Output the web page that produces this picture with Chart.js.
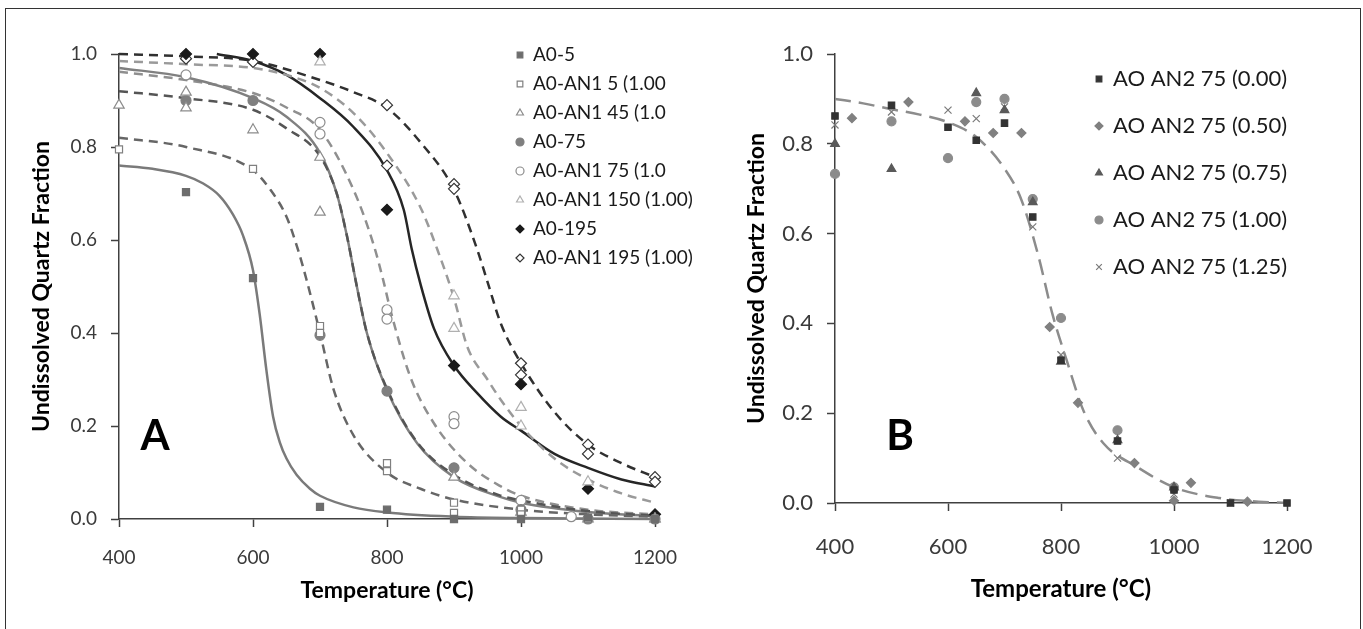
<!DOCTYPE html>
<html>
<head>
<meta charset="utf-8">
<script src="https://cdn.jsdelivr.net/npm/chart.js@4"></script>
<style>
  html, body { margin: 0; padding: 0; background: #fff; }
  body { width: 1363px; height: 629px; position: relative; overflow: hidden; }
  #frame { position: absolute; left: 5px; top: 8px; width: 1354px; height: 640px; border: 1px solid #333; }
  #wa { position: absolute; left: 0; top: 0; width: 740px; height: 629px; }
  #wb { position: absolute; left: 740px; top: 0; width: 623px; height: 629px; }
</style>
</head>
<body>
<div id="frame"></div>
<div id="wa"><canvas id="chartA"></canvas></div>
<div id="wb"><canvas id="chartB"></canvas></div>
<script>
// ---- panel A : measured points ----
const a05T = [500, 600, 700, 800, 900, 1000, 1100, 1200];
const a05V = [0.703, 0.518, 0.026, 0.02, 0.0, 0.0, 0.003, 0.0];
const an5T = [400, 600, 700, 700, 800, 800, 900, 900, 1000, 1000, 1100];
const an5V = [0.795, 0.753, 0.415, 0.40, 0.12, 0.103, 0.035, 0.013, 0.02, 0.01, 0.0];
const an45T = [400, 500, 500, 600, 700, 700, 900, 1000, 1100, 1200];
const an45V = [0.89, 0.918, 0.884, 0.837, 0.778, 0.66, 0.09, 0.015, 0.0, 0.0];
const a75T = [500, 600, 700, 800, 900, 1000, 1100, 1200];
const a75V = [0.90, 0.90, 0.395, 0.275, 0.11, 0.02, 0.0, 0.0];
const an75T = [500, 700, 700, 800, 800, 900, 900, 1000, 1075];
const an75V = [0.955, 0.853, 0.828, 0.45, 0.43, 0.22, 0.205, 0.04, 0.005];
const an150T = [700, 900, 900, 1000, 1000, 1100, 1200];
const an150V = [0.983, 0.48, 0.41, 0.24, 0.20, 0.08, 0.0];
const a195T = [500, 600, 700, 800, 900, 1000, 1100, 1200];
const a195V = [1.0, 1.0, 1.0, 0.665, 0.33, 0.29, 0.065, 0.01];
const an195T = [500, 600, 800, 800, 900, 900, 1000, 1000, 1100, 1100, 1200, 1200];
const an195V = [0.99, 0.983, 0.89, 0.76, 0.72, 0.71, 0.335, 0.31, 0.16, 0.14, 0.09, 0.08];

// ---- panel A : fitted curves ----
const fitA05T = [400, 450, 500, 525, 550, 570, 585, 600, 610, 620, 630, 640, 650, 665, 685, 700, 750, 800, 900, 1000, 1200];
const fitA05V = [0.76, 0.753, 0.738, 0.722, 0.695, 0.655, 0.61, 0.535, 0.44, 0.32, 0.22, 0.165, 0.13, 0.095, 0.065, 0.05, 0.025, 0.014, 0.005, 0.002, 0.0];
const fitAn5T = [400, 500, 600, 625, 650, 667, 680, 700, 720, 750, 800, 850, 900, 1000, 1100, 1200];
const fitAn5V = [0.82, 0.80, 0.75, 0.71, 0.65, 0.58, 0.514, 0.40, 0.28, 0.18, 0.10, 0.065, 0.042, 0.02, 0.01, 0.005];
const fitAn45T = [400, 500, 600, 650, 700, 725, 740, 755, 770, 800, 845, 900, 970, 1000, 1100, 1200];
const fitAn45V = [0.92, 0.905, 0.88, 0.84, 0.78, 0.70, 0.61, 0.50, 0.40, 0.28, 0.165, 0.095, 0.05, 0.04, 0.017, 0.007];
const fitA75T = [400, 500, 600, 650, 700, 725, 740, 755, 770, 800, 845, 900, 970, 1000, 1100, 1200];
const fitA75V = [0.97, 0.95, 0.905, 0.865, 0.787, 0.70, 0.61, 0.50, 0.40, 0.277, 0.163, 0.09, 0.047, 0.035, 0.015, 0.006];
const fitAn75T = [400, 500, 600, 650, 700, 750, 780, 795, 805, 835, 870, 920, 970, 1000, 1100, 1200];
const fitAn75V = [0.962, 0.944, 0.916, 0.885, 0.837, 0.708, 0.59, 0.51, 0.45, 0.305, 0.206, 0.12, 0.07, 0.05, 0.02, 0.01];
const fitAn150T = [400, 500, 600, 650, 700, 750, 800, 850, 875, 900, 920, 950, 970, 1000, 1050, 1100, 1150, 1200];
const fitAn150V = [0.985, 0.978, 0.97, 0.955, 0.927, 0.873, 0.787, 0.67, 0.58, 0.475, 0.37, 0.30, 0.256, 0.20, 0.13, 0.085, 0.055, 0.035];
const fitA195T = [546, 600, 650, 700, 750, 800, 825, 837, 850, 870, 900, 935, 970, 1000, 1050, 1100, 1150, 1200];
const fitA195V = [1.0, 0.985, 0.955, 0.905, 0.843, 0.75, 0.665, 0.58, 0.505, 0.41, 0.33, 0.27, 0.22, 0.19, 0.14, 0.11, 0.085, 0.07];
const fitAn195T = [400, 500, 600, 700, 750, 800, 850, 900, 935, 950, 970, 1000, 1050, 1100, 1150, 1200];
const fitAn195V = [1.0, 0.995, 0.985, 0.944, 0.918, 0.884, 0.81, 0.708, 0.578, 0.51, 0.42, 0.335, 0.23, 0.16, 0.12, 0.09];

// ---- panel B ----
const b000T = [400, 500, 600, 650, 700, 750, 800, 900, 1000, 1100, 1200];
const b000V = [0.862, 0.886, 0.837, 0.808, 0.846, 0.637, 0.318, 0.138, 0.029, 0.0, 0.0];
const b050T = [430, 530, 630, 680, 730, 780, 830, 930, 1000, 1030, 1130];
const b050V = [0.857, 0.893, 0.85, 0.824, 0.824, 0.392, 0.223, 0.089, 0.005, 0.045, 0.003];
const b075T = [400, 500, 650, 700, 750, 800, 900, 1000];
const b075V = [0.80, 0.744, 0.913, 0.875, 0.67, 0.315, 0.14, 0.035];
const b100T = [400, 500, 600, 650, 700, 750, 800, 900, 1000];
const b100V = [0.733, 0.85, 0.768, 0.893, 0.90, 0.677, 0.412, 0.162, 0.035];
const b125T = [400, 500, 600, 650, 700, 750, 800, 900, 1000, 1100];
const b125V = [0.842, 0.871, 0.875, 0.856, 0.882, 0.615, 0.33, 0.10, 0.02, 0.0];
const fitBT = [400, 450, 500, 550, 600, 650, 700, 730, 760, 785, 810, 840, 875, 935, 1000, 1080, 1150, 1200];
const fitBV = [0.90, 0.89, 0.877, 0.865, 0.848, 0.815, 0.745, 0.675, 0.55, 0.42, 0.318, 0.205, 0.133, 0.08, 0.035, 0.011, 0.003, 0.0];

const xTicks = [400, 600, 800, 1000, 1200];
const yTicks = [0, 0.2, 0.4, 0.6, 0.8, 1.0];

const FONT = 'Lato';
const pts = (t, v) => t.map((x, i) => ({ x: x, y: v[i] }));

function marks(label, t, v, style, fill, stroke, r) {
  return {
    label: label, data: pts(t, v), showLine: false, inLegend: true,
    pointStyle: style, pointRadius: r, pointHoverRadius: r,
    backgroundColor: fill, borderColor: stroke, pointBorderWidth: 1.2, clip: false
  };
}
function fit(t, v, color, dash, w) {
  return {
    data: pts(t, v), showLine: true, pointRadius: 0, borderColor: color,
    borderWidth: w, borderDash: dash, cubicInterpolationMode: 'monotone', clip: false
  };
}

// legend drawn over the plot area, like the original
const sideLegend = {
  id: 'sideLegend',
  afterDraw(chart, args, o) {
    const ctx = chart.ctx;
    const items = chart.data.datasets.filter(d => d.inLegend);
    ctx.save();
    ctx.font = o.font;
    ctx.textBaseline = 'middle';
    items.forEach((d, i) => {
      const y = o.y + i * o.step;
      ctx.fillStyle = d.backgroundColor;
      ctx.strokeStyle = d.borderColor;
      ctx.lineWidth = 1.2;
      Chart.helpers.drawPoint(ctx, { pointStyle: d.pointStyle, radius: o.r, borderWidth: 1.2 }, o.x, y);
      ctx.fillStyle = '#1a1a1a';
      ctx.fillText(d.label, o.x + o.gap, y);
    });
    ctx.restore();
  }
};
const panelTag = {
  id: 'panelTag',
  afterDraw(chart, args, o) {
    const ctx = chart.ctx;
    ctx.save();
    ctx.font = 'bold 42px ' + FONT;
    ctx.fillStyle = '#000';
    ctx.textAlign = 'center';
    ctx.textBaseline = 'middle';
    ctx.fillText(o.text, chart.chartArea.left + o.dx, o.y);
    ctx.restore();
  }
};

function axes(s) {
  const tick = { font: { family: FONT, size: s.tick }, color: '#3a3a3a' };
  const grid = { drawOnChartArea: false, drawTicks: true, tickLength: 8, tickColor: '#404040', tickWidth: 1.5 };
  const border = { color: '#404040', width: 1.5 };
  return {
    x: {
      type: 'linear', min: 400, max: 1200,
      afterBuildTicks: sc => { sc.ticks = xTicks.map(v => ({ value: v })); },
      afterFit: sc => { sc.height = s.xHeight; },
      ticks: Object.assign({ padding: s.xPad, callback: v => String(v) }, tick),
      grid: grid, border: border,
      title: { display: true, text: 'Temperature (°C)', color: '#000',
        font: { family: FONT, size: s.xTitle, weight: 'bold' }, padding: { top: 0, bottom: 25 } }
    },
    y: {
      min: 0, max: 1,
      afterBuildTicks: sc => { sc.ticks = yTicks.map(v => ({ value: v })); },
      afterFit: sc => { sc.width = s.yWidth; },
      ticks: Object.assign({ padding: 14, callback: v => v.toFixed(1) }, tick),
      grid: grid, border: border,
      title: { display: true, text: 'Undissolved Quartz Fraction', color: '#000',
        font: { family: FONT, size: 23, weight: 'bold' }, padding: { top: s.yTitlePad, bottom: 0 } }
    }
  };
}

const dashS = [9, 6];

new Chart(document.getElementById('chartA'), {
  type: 'scatter',
  data: {
    datasets: [
      marks('A0-5', a05T, a05V, 'rect', '#6d6d6d', '#6d6d6d', 5),
      marks('A0-AN1 5 (1.00', an5T, an5V, 'rect', '#fff', '#808080', 5),
      marks('A0-AN1 45 (1.0', an45T, an45V, 'triangle', '#fff', '#8c8c8c', 6),
      marks('A0-75', a75T, a75V, 'circle', '#7f7f7f', '#7f7f7f', 5),
      marks('A0-AN1 75 (1.0', an75T, an75V, 'circle', '#fff', '#8c8c8c', 5),
      marks('A0-AN1 150 (1.00)', an150T, an150V, 'triangle', '#fff', '#b0b0b0', 6),
      marks('A0-195', a195T, a195V, 'rectRot', '#1a1a1a', '#1a1a1a', 5.5),
      marks('A0-AN1 195 (1.00)', an195T, an195V, 'rectRot', '#fff', '#333', 5.5),
      fit(fitA05T, fitA05V, '#7a7a7a', [], 2.5),
      fit(fitAn5T, fitAn5V, '#666', dashS, 2.5),
      fit(fitAn45T, fitAn45V, '#555', dashS, 2.5),
      fit(fitA75T, fitA75V, '#808080', [], 2.5),
      fit(fitAn75T, fitAn75V, '#8f8f8f', dashS, 2.5),
      fit(fitAn150T, fitAn150V, '#9a9a9a', dashS, 2.5),
      fit(fitA195T, fitA195V, '#262626', [], 2.5),
      fit(fitAn195T, fitAn195V, '#303030', dashS, 2.5)
    ]
  },
  options: {
    responsive: true, maintainAspectRatio: false, animation: false,
    layout: { padding: { left: 0, top: 54, right: 85, bottom: 0 } },
    scales: axes({ tick: 19, yWidth: 119, xHeight: 110, xPad: 19, xTitle: 23, yTitlePad: 28 }),
    plugins: {
      legend: { display: false }, tooltip: { enabled: false },
      sideLegend: { x: 520, y: 55, step: 29, r: 4, gap: 13, font: '19px ' + FONT },
      panelTag: { text: 'A', dx: 36, y: 436 }
    }
  },
  plugins: [sideLegend, panelTag]
});

new Chart(document.getElementById('chartB'), {
  type: 'scatter',
  data: {
    datasets: [
      marks('AO AN2 75 (0.00)', b000T, b000V, 'rect', '#333', '#333', 4.5),
      marks('AO AN2 75 (0.50)', b050T, b050V, 'rectRot', '#808080', '#808080', 4.5),
      marks('AO AN2 75 (0.75)', b075T, b075V, 'triangle', '#5a5a5a', '#5a5a5a', 5),
      marks('AO AN2 75 (1.00)', b100T, b100V, 'circle', '#8c8c8c', '#8c8c8c', 4.5),
      marks('AO AN2 75 (1.25)', b125T, b125V, 'crossRot', '#7a7a7a', '#7a7a7a', 5),
      fit(fitBT, fitBV, '#8c8c8c', [16, 8], 2.5)
    ]
  },
  options: {
    responsive: true, maintainAspectRatio: false, animation: false,
    layout: { padding: { left: 0, top: 54, right: 76, bottom: 0 } },
    scales: axes({ tick: 22, yWidth: 95, xHeight: 126, xPad: 23, xTitle: 24, yTitlePad: 3 }),
    plugins: {
      legend: { display: false }, tooltip: { enabled: false },
      sideLegend: { x: 359, y: 79, step: 47, r: 4, gap: 14, font: '22px ' + FONT },
      panelTag: { text: 'B', dx: 65, y: 436 }
    }
  },
  plugins: [sideLegend, panelTag]
});
</script>
</body>
</html>
